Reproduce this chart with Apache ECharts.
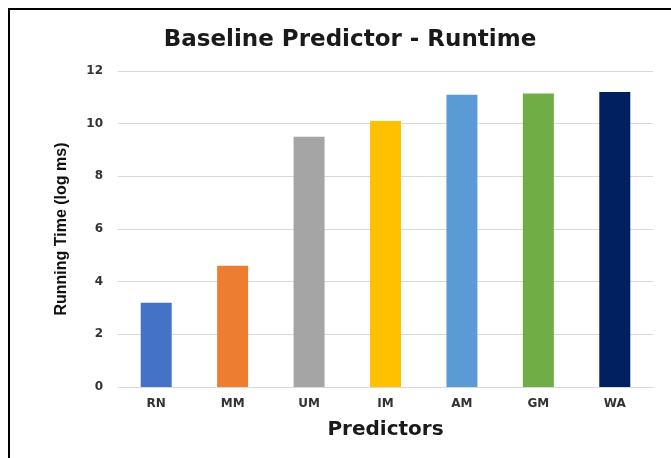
<!DOCTYPE html>
<html>
<head>
<meta charset="utf-8">
<style>
  html, body { margin: 0; padding: 0; background: #fff; }
  #chart { width: 671px; height: 458px; }
</style>
<script src="https://cdn.jsdelivr.net/npm/echarts@6/dist/echarts.min.js"></script>
</head>
<body>
<div id="chart"></div>
<script>
// Runtime of each baseline predictor (log ms)
const predictors = ['RN', 'MM', 'UM', 'IM', 'AM', 'GM', 'WA'];
const runtimes = [3.2, 4.6, 9.5, 10.1, 11.1, 11.15, 11.2];
const barColors = ['#4472C4', '#ED7D31', '#A5A5A5', '#FFC000', '#5B9BD5', '#70AD47', '#002060'];
const yTicks = { min: 0, max: 12, interval: 2 };

const chart = echarts.init(document.getElementById('chart'), null, { renderer: 'canvas' });

chart.setOption({
  backgroundColor: '#ffffff',
  animation: false,
  title: {
    text: 'Baseline Predictor - Runtime',
    left: 345,
    textAlign: 'center',
    top: 24,
    textStyle: { fontFamily: 'DejaVu Sans', fontWeight: 'bold', fontSize: 23, color: '#1a1a1a' }
  },
  graphic: [{
    type: 'polyline',
    shape: { points: [[9, 458], [9, 9], [671, 9]] },
    style: { stroke: '#000', lineWidth: 2, fill: null },
    silent: true
  }],
  grid: { left: 118, right: 18, top: 71, bottom: 71 },
  xAxis: {
    type: 'category',
    data: predictors,
    name: 'Predictors',
    nameLocation: 'middle',
    nameGap: 33,
    nameTextStyle: { fontFamily: 'DejaVu Sans', fontWeight: 'bold', fontSize: 20, color: '#1a1a1a', verticalAlign: 'top' },
    axisLine: { show: true, lineStyle: { color: '#d9d9d9', width: 1 } },
    axisTick: { show: false },
    axisLabel: { margin: 11, fontFamily: 'DejaVu Sans', fontWeight: 'bold', fontSize: 12, color: '#333' }
  },
  yAxis: {
    type: 'value',
    min: yTicks.min,
    max: yTicks.max,
    interval: yTicks.interval,
    name: 'Running Time (log ms)',
    nameLocation: 'middle',
    nameRotate: 90,
    nameGap: 48,
    nameTextStyle: { fontFamily: 'Liberation Sans', fontWeight: 'bold', fontSize: 16, color: '#111' },
    axisLine: { show: false },
    axisTick: { show: false },
    splitLine: { lineStyle: { color: '#d9d9d9', width: 1 } },
    axisLabel: { margin: 15, fontFamily: 'DejaVu Sans', fontWeight: 'bold', fontSize: 12, color: '#333' }
  },
  series: [{
    type: 'bar',
    barWidth: 31,
    data: runtimes.map((v, i) => ({ value: v, itemStyle: { color: barColors[i] } }))
  }]
});
</script>
</body>
</html>
